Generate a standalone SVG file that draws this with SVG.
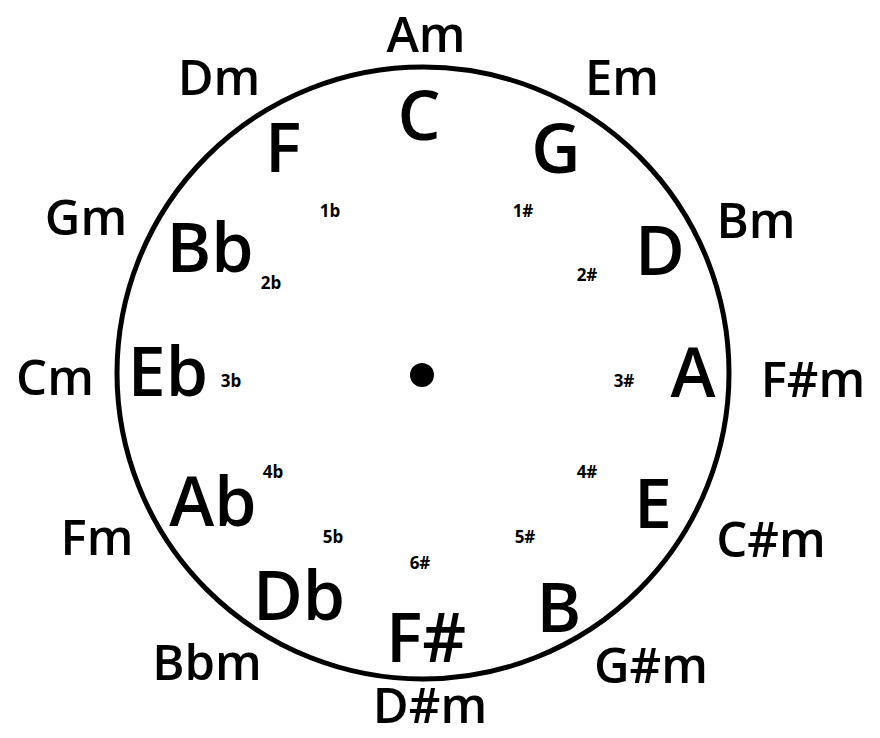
<svg xmlns="http://www.w3.org/2000/svg" width="880" height="738" viewBox="0 0 880 738">
<style>
text{font-family:"Open Sans","DejaVu Sans",sans-serif;fill:#000;text-anchor:middle}
.mi{font-size:49px;font-weight:600}
.ma{font-size:68px;font-weight:600}
.sm{font-size:17px;font-weight:700}
</style>
<rect width="880" height="738" fill="#fff"/>
<g id="connectors">
<circle cx="423" cy="373" r="306" fill="none" stroke="#000" stroke-width="5"/>
<circle cx="422" cy="375" r="12" fill="#000"/>
</g>
<g id="minor">
<g id="Am"><text class="mi" x="426" y="52">Am</text></g>
<g id="Dm"><text class="mi" x="219" y="95">Dm</text></g>
<g id="Em"><text class="mi" x="622" y="95">Em</text></g>
<g id="Gm"><text class="mi" x="86" y="235">Gm</text></g>
<g id="Bm"><text class="mi" x="756" y="238">Bm</text></g>
<g id="Cm"><text class="mi" x="55" y="395">Cm</text></g>
<g id="Fsm"><text class="mi" x="813" y="397">F#m</text></g>
<g id="Fm"><text class="mi" x="97" y="555">Fm</text></g>
<g id="Csm"><text class="mi" x="771" y="557">C#m</text></g>
<g id="Bbm"><text class="mi" x="207" y="680">Bbm</text></g>
<g id="Gsm"><text class="mi" x="651" y="683">G#m</text></g>
<g id="Dsm"><text class="mi" x="430" y="723">D#m</text></g>
</g>
<g id="major">
<g id="C"><text class="ma" x="419" y="140">C</text></g>
<g id="F"><text class="ma" x="283" y="172">F</text></g>
<g id="G"><text class="ma" x="556" y="173">G</text></g>
<g id="Bb"><text class="ma" x="210" y="272">Bb</text></g>
<g id="D"><text class="ma" x="660" y="275">D</text></g>
<g id="Eb"><text class="ma" x="168" y="396">Eb</text></g>
<g id="A"><text class="ma" x="693" y="397">A</text></g>
<g id="Ab"><text class="ma" x="213" y="526">Ab</text></g>
<g id="E"><text class="ma" x="653" y="528">E</text></g>
<g id="Db"><text class="ma" x="299" y="620">Db</text></g>
<g id="B"><text class="ma" x="559" y="632">B</text></g>
<g id="Fs"><text class="ma" x="426" y="662">F#</text></g>
</g>
<g id="accidentals">
<text class="sm" x="330" y="217">1b</text>
<text class="sm" x="523" y="217">1#</text>
<text class="sm" x="271" y="289">2b</text>
<text class="sm" x="587" y="281">2#</text>
<text class="sm" x="231" y="387">3b</text>
<text class="sm" x="624" y="387">3#</text>
<text class="sm" x="273" y="478">4b</text>
<text class="sm" x="587" y="478">4#</text>
<text class="sm" x="333" y="543">5b</text>
<text class="sm" x="525" y="543">5#</text>
<text class="sm" x="420" y="569">6#</text>
</g>
</svg>
